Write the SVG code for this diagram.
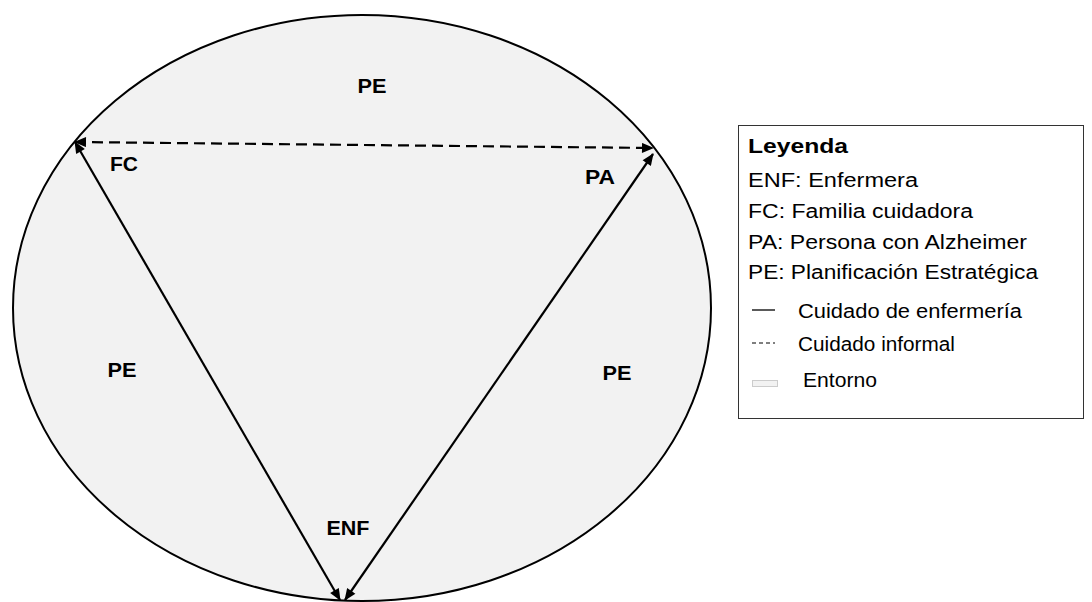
<svg xmlns="http://www.w3.org/2000/svg" width="1092" height="602" viewBox="0 0 1092 602">
<defs>
<marker id="ah" viewBox="0 0 12 10" refX="11" refY="5" markerWidth="13" markerHeight="10" markerUnits="userSpaceOnUse" orient="auto-start-reverse">
<path d="M0,0 L12,5 L0,10 z" fill="#000"/>
</marker>
<style>
.lbl{font-family:"Liberation Sans",Arial,sans-serif;font-weight:bold;font-size:21px;fill:#000}
.leg{font-family:"Liberation Sans",Arial,sans-serif;font-size:20px;fill:#000}
.solid{stroke:#000;stroke-width:2.2;fill:none}
.dash{stroke:#000;stroke-width:2.2;fill:none;stroke-dasharray:11,6}
</style>
</defs>
<rect width="1092" height="602" fill="#fff"/>
<g id="entorno">
<ellipse cx="362" cy="308" rx="349" ry="293" fill="#f2f2f2" stroke="#000" stroke-width="2"/>
</g>
<g id="labels">
<text class="lbl" x="372" y="93" text-anchor="middle" textLength="29" lengthAdjust="spacingAndGlyphs">PE</text>
<text class="lbl" x="122" y="377" text-anchor="middle" textLength="29" lengthAdjust="spacingAndGlyphs">PE</text>
<text class="lbl" x="617" y="380" text-anchor="middle" textLength="29" lengthAdjust="spacingAndGlyphs">PE</text>
</g>
<g id="node-FC"><text class="lbl" x="124" y="171" text-anchor="middle" textLength="28" lengthAdjust="spacingAndGlyphs">FC</text></g>
<g id="node-PA"><text class="lbl" x="600" y="184" text-anchor="middle" textLength="30" lengthAdjust="spacingAndGlyphs">PA</text></g>
<g id="node-ENF"><text class="lbl" x="348" y="535" text-anchor="middle" textLength="43" lengthAdjust="spacingAndGlyphs">ENF</text></g>
<g id="connectors">
<line class="solid" x1="75" y1="142" x2="340" y2="600" marker-start="url(#ah)" marker-end="url(#ah)"/>
<line class="solid" x1="345" y1="600" x2="653" y2="154" marker-start="url(#ah)" marker-end="url(#ah)"/>
<line class="dash" x1="75" y1="142" x2="653" y2="148" marker-start="url(#ah)" marker-end="url(#ah)"/>
</g>
<g id="legend">
<rect x="738.5" y="125.5" width="345" height="293" fill="#fff" stroke="#333" stroke-width="1"/>
<text class="leg" x="748" y="153" font-weight="bold" textLength="100" lengthAdjust="spacingAndGlyphs">Leyenda</text>
<text class="leg" x="748" y="187" textLength="170" lengthAdjust="spacingAndGlyphs">ENF: Enfermera</text>
<text class="leg" x="748" y="218" textLength="225" lengthAdjust="spacingAndGlyphs">FC: Familia cuidadora</text>
<text class="leg" x="748" y="249" textLength="279" lengthAdjust="spacingAndGlyphs">PA: Persona con Alzheimer</text>
<text class="leg" x="748" y="279" textLength="290" lengthAdjust="spacingAndGlyphs">PE: Planificación Estratégica</text>
<line x1="752" y1="310" x2="775" y2="310" stroke="#000" stroke-width="1.3"/>
<text class="leg" x="798" y="318" textLength="224" lengthAdjust="spacingAndGlyphs">Cuidado de enfermería</text>
<line x1="752" y1="343" x2="775" y2="343" stroke="#000" stroke-width="1.2" stroke-dasharray="4,3"/>
<text class="leg" x="798" y="351" textLength="157" lengthAdjust="spacingAndGlyphs">Cuidado informal</text>
<rect x="752.5" y="380.5" width="25" height="6" fill="#f2f2f2" stroke="#ccc" stroke-width="1"/>
<text class="leg" x="803" y="387" textLength="74" lengthAdjust="spacingAndGlyphs">Entorno</text>
</g>
</svg>
